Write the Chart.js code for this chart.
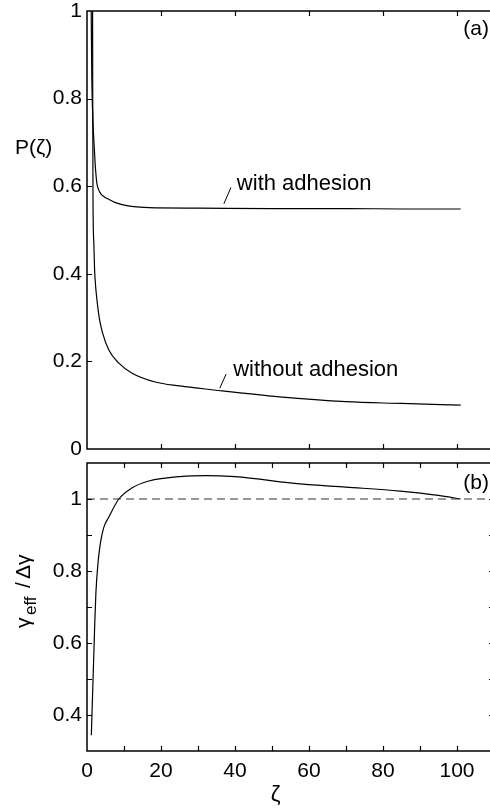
<!DOCTYPE html>
<html>
<head>
<meta charset="utf-8">
<script src="https://cdn.jsdelivr.net/npm/chart.js@4.4.1/dist/chart.umd.min.js"></script>
<style>
  html, body { margin: 0; padding: 0; background: #fff; overflow: hidden; width: 490px; height: 809px; }
  .panel { position: absolute; left: 0; }
  canvas { display: block; }
</style>
</head>
<body>
<div class="panel" style="top:0"><canvas id="chartA" width="496" height="456"></canvas></div>
<div class="panel" style="top:456px"><canvas id="chartB" width="496" height="353"></canvas></div>
<script>
// panel (a): P(zeta)
const zetaWith = [1.08, 1.3, 1.6, 2.0, 2.25, 2.7, 3.0, 3.5, 4.0, 4.8, 5.9, 7.5, 9.5, 12, 16.7, 30, 50, 70, 85, 101];
const pWith    = [1.05, 0.85, 0.75, 0.683, 0.645, 0.605, 0.595, 0.586, 0.580, 0.575, 0.570, 0.563, 0.558, 0.554, 0.551, 0.550, 0.549, 0.549, 0.548, 0.548];
const zetaWithout = [1.5, 1.55, 1.62, 1.85, 2.05, 2.35, 2.7, 3.3, 4.2, 5.9, 8.6, 12.2, 18.4, 25, 30, 36, 52, 70, 85, 101];
const pWithout    = [1.05, 0.80, 0.57, 0.47, 0.41, 0.37, 0.34, 0.30, 0.265, 0.226, 0.196, 0.173, 0.153, 0.144, 0.139, 0.133, 0.119, 0.108, 0.104, 0.100];

// panel (b): gamma_eff / delta gamma
const zetaGamma  = [1.17, 1.5, 1.8, 2.1, 2.4, 3.0, 3.6, 4.5, 5.9, 8.6, 12.2, 16.7, 25.7, 32, 40, 57.6, 70, 84.6, 95, 101];
const gammaRatio = [0.344, 0.454, 0.554, 0.655, 0.738, 0.825, 0.876, 0.920, 0.950, 1.0, 1.031, 1.050, 1.063, 1.065, 1.062, 1.042, 1.033, 1.022, 1.010, 1.0];
const refZeta  = [0, 110];
const refGamma = [1, 1];

// annotation pointers
const ptrWithZeta = [37.0, 38.9],    ptrWithP = [0.560, 0.597];
const ptrWithoutZeta = [35.9, 37.6], ptrWithoutP = [0.139, 0.171];

const xTicksA = [20, 40, 60, 80, 100];
const yTicksA = [0.2, 0.4, 0.6, 0.8];
const xTicksB = [10, 20, 30, 40, 50, 60, 70, 80, 90, 100];
const yTicksB = [0.4, 0.5, 0.6, 0.7, 0.8, 0.9, 1.0];

const FONT = '"Liberation Sans", Arial, Helvetica, sans-serif';
Chart.defaults.font.family = FONT;
Chart.defaults.font.size = 21;
Chart.defaults.color = '#000';

const toPts = (xs, ys) => xs.map((x, i) => ({ x, y: ys[i] }));

const curve = (xs, ys, extra = {}) => Object.assign({
    data: toPts(xs, ys), borderColor: '#000', borderWidth: 1.2,
    pointRadius: 0, showLine: true, cubicInterpolationMode: 'monotone', fill: false
}, extra);

const noPad = s => { s.paddingLeft = 0; s.paddingRight = 0; s.paddingTop = 0; s.paddingBottom = 0; };

function drawFrame(chart, xt, yt, rightTicks) {
    const { ctx, chartArea: a, scales: { x, y } } = chart;
    ctx.save();
    ctx.strokeStyle = '#000';
    ctx.lineWidth = 1.5;
    ctx.strokeRect(a.left, a.top, a.right - a.left, a.bottom - a.top);
    ctx.lineWidth = 1.2;
    ctx.beginPath();
    xt.forEach(v => {
        const px = Math.round(x.getPixelForValue(v)) + 0.5;
        ctx.moveTo(px, a.bottom); ctx.lineTo(px, a.bottom - 5);
        ctx.moveTo(px, a.top); ctx.lineTo(px, a.top + 5);
    });
    yt.forEach(v => {
        const py = Math.round(y.getPixelForValue(v)) + 0.5;
        ctx.moveTo(a.left, py); ctx.lineTo(a.left + 5, py);
        if (rightTicks) { ctx.moveTo(a.right, py); ctx.lineTo(a.right - 5, py); }
    });
    ctx.stroke();
    ctx.restore();
}

const panelA = {
    id: 'panelA',
    afterDatasetsDraw(chart) {
        const { ctx, chartArea: a, scales: { x, y } } = chart;
        drawFrame(chart, xTicksA, yTicksA, false);
        ctx.save();
        ctx.fillStyle = '#000';
        ctx.font = '22px ' + FONT;
        ctx.textBaseline = 'alphabetic';
        ctx.textAlign = 'left';
        ctx.fillText('with adhesion', x.getPixelForValue(40.5), y.getPixelForValue(0.592));
        ctx.fillText('without adhesion', x.getPixelForValue(39.5), y.getPixelForValue(0.167));
        ctx.font = '21px ' + FONT;
        ctx.fillText('P(\u03B6)', 15, y.getPixelForValue(0.674));
        ctx.textAlign = 'right';
        ctx.fillText('(a)', a.right - 5, a.top + 24);
        ctx.restore();
    }
};

const panelB = {
    id: 'panelB',
    afterDatasetsDraw(chart) {
        const { ctx, chartArea: a, scales: { x, y } } = chart;
        drawFrame(chart, xTicksB, yTicksB, true);
        ctx.save();
        ctx.fillStyle = '#000';
        ctx.textBaseline = 'alphabetic';
        ctx.font = '21px ' + FONT;
        ctx.textAlign = 'right';
        ctx.fillText('(b)', a.right - 5, a.top + 26);
        ctx.textAlign = 'center';
        ctx.font = '22px ' + FONT;
        ctx.fillText('\u03B6', x.getPixelForValue(51), a.bottom + 50);
        // rotated y label
        ctx.translate(30, y.getPixelForValue(0.636));
        ctx.rotate(-Math.PI / 2);
        ctx.textAlign = 'left';
        ctx.font = '21px ' + FONT;
        ctx.fillText('\u03B3', 2, 0);
        ctx.font = '17px ' + FONT;
        ctx.fillText('eff', 15, 6);
        ctx.font = '21px ' + FONT;
        ctx.fillText('/', 42, 0);
        ctx.fillText('\u0394\u03B3', 51, 0);
        ctx.restore();
    }
};

const baseX = (showLabels, height) => ({
    type: 'linear', min: 0, max: 110,
    grid: { display: false, drawTicks: false }, border: { display: false },
    ticks: {
        display: showLabels, stepSize: 20, includeBounds: false, autoSkip: false, maxRotation: 0, padding: 8,
        callback: v => (v % 20 === 0 && v <= 100) ? String(v) : ''
    },
    afterFit: s => { s.height = height; noPad(s); }
});

new Chart(document.getElementById('chartA'), {
    type: 'scatter',
    data: { datasets: [
        curve(zetaWith, pWith),
        curve(zetaWithout, pWithout),
        curve(ptrWithZeta, ptrWithP, { cubicInterpolationMode: 'default', borderWidth: 1 }),
        curve(ptrWithoutZeta, ptrWithoutP, { cubicInterpolationMode: 'default', borderWidth: 1 })
    ]},
    options: {
        responsive: false, animation: false,
        layout: { padding: { top: 11, right: 2, left: 0, bottom: 0 } },
        plugins: { legend: { display: false }, tooltip: { enabled: false } },
        scales: {
            x: baseX(false, 7),
            y: {
                type: 'linear', min: 0, max: 1,
                grid: { display: false, drawTicks: false }, border: { display: false },
                ticks: { stepSize: 0.2, padding: 5, callback: v => v === 0 ? '0' : v === 1 ? '1' : v.toFixed(1) },
                afterFit: s => { s.width = 87; noPad(s); }
            }
        }
    },
    plugins: [panelA]
});

new Chart(document.getElementById('chartB'), {
    type: 'scatter',
    data: { datasets: [
        curve(refZeta, refGamma, { borderColor: '#333', borderDash: [8, 5], cubicInterpolationMode: 'default' }),
        curve(zetaGamma, gammaRatio)
    ]},
    options: {
        responsive: false, animation: false,
        layout: { padding: { top: 7, right: 2, left: 0, bottom: 0 } },
        plugins: { legend: { display: false }, tooltip: { enabled: false } },
        scales: {
            x: baseX(true, 58),
            y: {
                type: 'linear', min: 0.3, max: 1.1,
                grid: { display: false, drawTicks: false }, border: { display: false },
                ticks: {
                    stepSize: 0.1, padding: 5, autoSkip: false,
                    callback: v => {
                        const k = Math.round(v * 10);
                        if (k % 2 !== 0 || k < 4 || k > 10) return '';
                        return k === 10 ? '1' : (k / 10).toFixed(1);
                    }
                },
                afterFit: s => { s.width = 87; noPad(s); }
            }
        }
    },
    plugins: [panelB]
});
</script>
</body>
</html>
